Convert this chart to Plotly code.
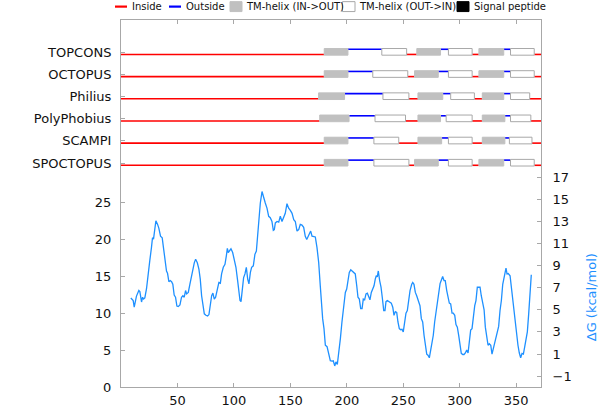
import plotly.graph_objects as go

# ---------------- data ----------------
predictors = ["TOPCONS", "OCTOPUS", "Philius", "PolyPhobius", "SCAMPI", "SPOCTOPUS"]
row_level = [45, 42, 39, 36, 33, 30]

# region types between consecutive boundaries: i=inside, M=TM in->out, o=outside, W=TM out->in
region_types = ["i", "M", "o", "W", "i", "M", "o", "W", "i", "M", "o", "W", "i"]
topcons_bounds = [0, 180, 201, 231, 253, 262, 283, 290, 311, 317, 339, 345, 366, 372]
octopus_bounds = [0, 180, 201, 223, 254, 260, 281, 290, 311, 317, 339, 345, 366, 372]
philius_bounds = [0, 175, 198, 232, 255, 263, 285, 292, 313, 320, 339, 345, 362, 372]
polyphobius_bounds = [0, 176, 202, 225, 252, 263, 283, 288, 311, 320, 340, 345, 363, 372]
scampi_bounds = [0, 180, 201, 224, 246, 263, 284, 290, 311, 320, 340, 344, 364, 372]
spoctopus_bounds = [0, 180, 201, 224, 255, 260, 281, 290, 311, 317, 339, 345, 366, 372]
all_bounds = [topcons_bounds, octopus_bounds, philius_bounds,
              polyphobius_bounds, scampi_bounds, spoctopus_bounds]

curve_pos = [8.7, 10.8, 11.7, 12.9, 13.7, 15.8, 16.7, 18.2, 19.1, 20, 21.1, 22.6, 24.1, 25.5, 27, 27.9, 28.8,
             30, 30.9, 32.4, 33.5, 35, 36.5, 37.4, 38.9, 40.3, 41.2, 42.4, 43.6, 44.8, 45.9, 47.1, 48.3, 49.5,
             50.7, 52.2, 53.6, 54.8, 56, 57.2, 58.1, 59.6, 61, 62.5, 63.7, 64.9, 66.1, 67.6, 69, 70.2, 71.4,
             72.5, 73.8, 75.2, 76.7, 77.9, 79.1, 80.3, 81.4, 82.6, 83.8, 85.3, 86.7, 88, 89.1, 90.6, 92.1,
             93.3, 94.2, 95, 96.2, 97.4, 98.9, 100.4, 101.8, 103.3, 104.5, 105.4, 106.3, 107.5, 108.6, 109.8,
             111, 112.2, 113.3, 114.6, 115.7, 117.2, 118.6, 119.9, 121, 122.2, 123.4,
             124.9, 126.4, 127.8, 129.3, 130.8, 132.2, 133.7, 134.9, 135.8, 136.7, 138.2, 139.7, 141.1, 142.6,
             144.1, 145.5, 147, 148.5, 150, 151.5, 153, 154.4, 155.9, 157.4, 158.8, 160.3, 161.8, 163.2, 164.5,
             165.6, 166.8, 168, 169.2, 170.7, 172.1, 173.6, 175.1, 176.5, 177.4, 178.6, 179.8, 181, 182.5, 184,
             185.4, 186.9, 188, 189.3, 190.4, 191.6, 192.8, 194.3, 195.7, 197.3, 198.7, 199.9, 201.1, 202.2,
             203.5, 204.6, 206.1, 207.5, 208.8, 209.9, 211.1, 212.3, 213.5, 214.6, 215.8, 217, 218.2, 219.4,
             220.5, 221.7, 222.9, 224.1, 225.2, 226.1, 227, 227.9, 229.1, 230.3, 231.4, 232.7, 233.8, 234.7,
             235.9, 237.1, 238.3, 239.4, 240.7, 241.8, 243, 244.2, 245.3, 246.5, 247.7, 248.9, 250, 251.3,
             252.4, 253.6,
             254.5, 256, 257.5, 258.4, 259.5, 260.7, 261.9, 263.3, 264.8, 266, 267.2, 268.4, 269.5, 270.8,
             271.9, 273.1, 274.3, 275.5, 276.6, 277.8, 279, 280.2, 281.4, 282.6, 283.7, 284.9, 286.1, 287.2,
             288.5, 289.6, 290.8, 292, 293.2, 294.3, 295.6, 296.7, 297.9, 299.1, 300.3, 301.4, 302.7, 303.8,
             305, 306.2, 307.4, 308.5, 309.7, 310.9, 312, 313.3, 314.4, 315.6, 316.8, 318, 319.1, 320.4, 321.6,
             322.7, 323.9, 325.1, 326.2, 327.5, 328.6, 329.8, 331, 332.2, 333.3, 334.5, 335.7, 336.9, 338.1,
             339.2, 340.4, 341, 341.9, 343, 344.6, 345.7, 346.9, 348.1, 349.3, 350.5, 351.6, 352.8, 354, 355.2,
             356.4, 357.6, 358.7, 359.9, 361.1, 362.3, 363.4]
curve_val = [12.05, 11.7, 10.8, 11.5, 12.3, 13.05, 12.9, 11.5, 12.15, 11.9, 12.05, 13.3, 15.7, 17.1, 18.9, 20.2,
             20, 21.5, 22.5, 22.0, 21.5, 20.4, 20.2, 19.1, 17.1, 15.7, 15.4, 14.25, 14.4, 14.25, 13.9, 12.45,
             12.15, 10.95, 10.9, 11.1, 12.15, 12.35, 12.15, 13.05, 12.6, 12.8, 13.9, 15.05, 16.2, 16.8, 17.3,
             16.8, 15.95, 14.6, 12.35, 10.8, 9.9, 9.7, 9.6, 9.8, 11.05, 12.35, 12.7, 11.9, 12.15, 13.05, 14.15,
             14.05, 15.3, 16.2, 16.6, 17.75, 18.75, 18.2, 18.4, 18.7, 18.2, 17.3, 16.2, 14.4, 12.8, 11.7, 11.55,
             13.25, 14.8, 15.3, 16.2, 14.6, 13.95, 15.5, 16.2, 16.4, 17.95, 18.4, 20.6, 23.1, 24.9,
             26.45, 25.8, 24.9, 24.2, 23.1, 22.9, 22.4, 21.2, 21.3, 22.2, 22.4, 22.3, 23.1, 22.4, 23.1, 23.5,
             24.8, 24.2, 23.9, 23.5, 22.65, 22.4, 21.1, 21.3, 22.0, 21.9, 21.6, 20.4, 19.95, 20.4, 20.85, 21.1,
             20.4, 20.4, 20.3, 18.85, 16.85, 13.7, 11.0, 9.25, 7.9, 5.65, 5.45, 4.3, 3.55, 3.5, 3.55, 2.85, 3.4,
             3.05, 4.5, 6.55, 8.8, 11.0, 12.8, 13.25, 14.8, 15.5, 15.85, 15.7, 15.5, 15.3, 13.7, 12.15, 11.9,
             10.6, 10.6, 11.9, 11.8, 12.6, 12.7, 12.15, 11.8, 12.8, 13.35, 13.7, 14.6, 15.05, 14.9, 15.7, 14.4,
             13.5, 12.15, 10.35, 10.35, 11.55, 11.7, 11.55, 11.45, 11.35, 10.8, 9.7, 10.2, 10.1, 8.8, 7.9, 7.75,
             7.8, 7.45, 9.0, 10.0, 10.35,
             11.5, 13.05, 13.9, 14.15, 13.9, 12.8, 12.35, 11.7, 11.0, 9.25, 8.8, 7.0, 5.9, 4.45, 4.3, 3.95, 5.0,
             5.9, 7.0, 8.8, 10.1, 11.0, 12.6, 14.0, 14.45, 14.95, 14.4, 14.4, 13.05, 12.35, 11.35, 11.25, 10.0,
             10.0, 9.7, 8.45, 8.1, 7.0, 5.65, 4.55, 4.4, 4.4, 4.6, 5.0, 4.6, 6.3, 7.7, 7.9, 9.45, 11.0, 11.7,
             13.5, 13.5, 13.5, 12.35, 11.5, 10.45, 8.1, 7.0, 5.65, 5.85, 5.65, 4.45, 5.2, 5.9, 6.55, 7.15, 8.2,
             10.35, 11.7, 13.9, 14.8, 15.5, 16.1, 15.3, 15.35, 15.05, 13.5, 12.35, 10.8, 9.25, 7.45, 5.65, 4.6,
             3.95, 4.55, 4.45, 5.45, 6.35, 7.45, 9.9, 13.05, 15.2]

left_ticks = [0, 5, 10, 15, 20, 25]
right_ticks = [-1, 1, 3, 5, 7, 9, 11, 13, 15, 17]
x_ticks = [50, 100, 150, 200, 250, 300, 350]

legend_labels = ["Inside", "Outside", "TM-helix (IN->OUT)", "TM-helix (OUT->IN)", "Signal peptide"]

# ---------------- figure ----------------
FONT = "DejaVu Sans"
AXC = "#a8a8a8"
RED = "#ff0000"
BLUE = "#0000ff"
GRAY = "#c0c0c0"
CURVE = "#1e90ff"

fig = go.Figure()
shapes = []

OUT_OFF = 0.7
BOX_LO, BOX_HI = -0.1, 0.8

for base, bounds in zip(row_level, all_bounds):
    for k, t in enumerate(region_types):
        x0, x1 = bounds[k], bounds[k + 1]
        if t == "i" or t == "o":
            yv = base if t == "i" else base + OUT_OFF
            fig.add_trace(go.Scatter(x=[x0, x1], y=[yv, yv], mode="lines",
                                     line=dict(color=RED if t == "i" else BLUE, width=1.6),
                                     showlegend=False, hoverinfo="skip"))
        else:
            shapes.append(dict(type="rect", xref="x", yref="y", x0=x0, x1=x1,
                               y0=base + BOX_LO, y1=base + BOX_HI,
                               fillcolor=GRAY if t == "M" else "white",
                               line=dict(color=GRAY if t == "M" else "#a8a8a8", width=1),
                               layer="above"))

fig.add_trace(go.Scatter(x=curve_pos, y=curve_val, mode="lines",
                         line=dict(color=CURVE, width=1.3), showlegend=False, hoverinfo="skip"))
# invisible trace to activate right axis
fig.add_trace(go.Scatter(x=[0], y=[0], yaxis="y2", mode="markers",
                         marker=dict(opacity=0), showlegend=False, hoverinfo="skip"))

# ---- manual legend (paper coordinates) ----
W, H = 420.0, 370.0
L, T = 121.0, 20.0
def px(x):
    return (x - L) / W
def py(y):
    return (T + H - y) / H

ly = 6.5
shapes.append(dict(type="line", xref="paper", yref="paper", x0=px(115), x1=px(127), y0=py(ly), y1=py(ly),
                   line=dict(color=RED, width=2.2)))
shapes.append(dict(type="line", xref="paper", yref="paper", x0=px(169), x1=px(181), y0=py(ly), y1=py(ly),
                   line=dict(color=BLUE, width=2.2)))
shapes.append(dict(type="rect", xref="paper", yref="paper", x0=px(230), x1=px(242), y0=py(11.5), y1=py(1.5),
                   fillcolor=GRAY, line=dict(color=GRAY, width=1)))
shapes.append(dict(type="rect", xref="paper", yref="paper", x0=px(342.5), x1=px(355), y0=py(11.5), y1=py(1.5),
                   fillcolor="white", line=dict(color="#a8a8a8", width=1)))
shapes.append(dict(type="rect", xref="paper", yref="paper", x0=px(457), x1=px(469), y0=py(11.5), y1=py(1.5),
                   fillcolor="black", line=dict(color="black", width=1)))

annotations = []
for label, xpix in zip(legend_labels, [129.5, 183.5, 244, 357, 471.5]):
    annotations.append(dict(text=label, xref="paper", yref="paper", x=px(xpix), y=py(ly),
                            xanchor="left", yanchor="middle", showarrow=False,
                            font=dict(family=FONT, size=10, color="#111")))

annotations.append(dict(text="\u0394G (kcal/mol)", xref="paper", yref="paper", x=px(591.5), y=py(300),
                        xanchor="center", yanchor="middle", textangle=-90, showarrow=False,
                        font=dict(family=FONT, size=13, color=CURVE)))

ytickvals = left_ticks + [b + 0.3 for b in row_level]
yticktext = [str(v) for v in left_ticks] + predictors

fig.update_layout(
    width=600, height=420,
    margin=dict(l=121, r=59, t=20, b=30),
    paper_bgcolor="white", plot_bgcolor="white",
    font=dict(family=FONT, size=13, color="#111"),
    showlegend=False,
    hovermode=False,
    shapes=shapes,
    annotations=annotations,
    xaxis=dict(range=[0, 372], tickvals=x_ticks, ticks="inside", ticklen=4, tickcolor=AXC,
               showline=True, linecolor=AXC, linewidth=1, mirror="ticks", showgrid=False, zeroline=False,
               ticklabelstandoff=1,
               tickfont=dict(family=FONT, size=13, color="#111")),
    yaxis=dict(range=[0, 49.66], tickvals=ytickvals, ticktext=yticktext, ticks="inside", ticklen=4,
               tickcolor=AXC, showline=True, linecolor=AXC, linewidth=1, showgrid=False, zeroline=False,
               ticklabelstandoff=6,
               tickfont=dict(family=FONT, size=13, color="#111")),
    yaxis2=dict(range=[-1.98, 31.19], tickvals=right_ticks, overlaying="y", side="right", ticks="inside",
                ticklen=4, tickcolor=AXC, showline=True, linecolor=AXC, linewidth=1, showgrid=False,
                zeroline=False, ticklabelstandoff=8,
                tickfont=dict(family=FONT, size=13, color="#111")),
)

fig.write_html("out.html", config={"displayModeBar": False, "staticPlot": True},
               post_script="document.body.style.margin='0';document.body.style.overflow='hidden';")
